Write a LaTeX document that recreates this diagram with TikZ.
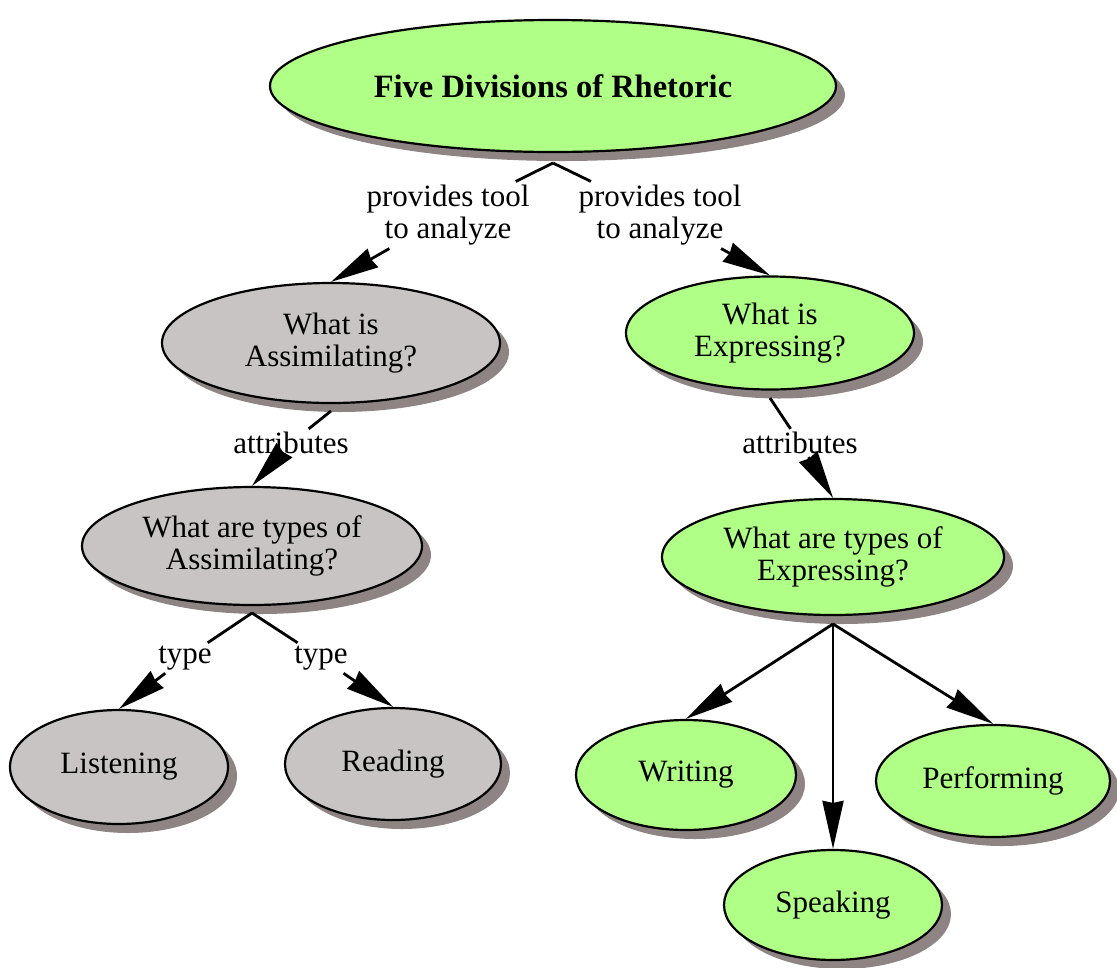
\documentclass[tikz,border=0pt]{standalone}
\usepackage{fontspec}
\setmainfont{Liberation Serif}
\usetikzlibrary{shapes.geometric,shadows,arrows.meta}
\definecolor{cgreen}{RGB}{176,255,134}
\definecolor{cgray}{RGB}{200,196,196}
\definecolor{cshadow}{RGB}{142,132,132}
\begin{document}
\begin{tikzpicture}[x=1pt,y=-1pt,
  concept/.style={ellipse, draw, line width=2.2pt, inner sep=0pt, align=center,
    font=\fontsize{31}{32.5}\selectfont,
    general shadow={fill=cshadow, shadow xshift=9pt, shadow yshift=-9pt}},
  gnode/.style={concept, fill=cgreen},
  ynode/.style={concept, fill=cgray},
  lbl/.style={font=\fontsize{31}{32.5}\selectfont, align=center, inner sep=3pt},
  link/.style={line width=2.8pt},
  arr/.style={line width=2.8pt, -{Triangle[length=48pt,width=21pt,inset=2pt]}}
]
\useasboundingbox (0,0) rectangle (1117,967);

% concepts
\node[gnode, minimum width=566pt, minimum height=132pt, font=\fontsize{32.5}{34}\selectfont\bfseries] (top) at (553,86) {Five Divisions of Rhetoric};
\node[ynode, minimum width=338pt, minimum height=120pt] (assim) at (331,343) {What is\\Assimilating?};
\node[gnode, minimum width=288pt, minimum height=113pt] (expr) at (770,333) {What is\\Expressing?};
\node[ynode, minimum width=340pt, minimum height=118pt] (tassim) at (252,546) {What are types of\\Assimilating?};
\node[gnode, minimum width=342pt, minimum height=116pt] (texpr) at (833,557) {What are types of\\Expressing?};
\node[ynode, minimum width=218pt, minimum height=114pt] (listen) at (119,767) {Listening};
\node[ynode, minimum width=216pt, minimum height=112pt] (read) at (393,764) {Reading};
\node[gnode, minimum width=220pt, minimum height=110pt] (write) at (686,775) {Writing};
\node[gnode, minimum width=234pt, minimum height=112pt] (perform) at (993,781) {Performing};
\node[gnode, minimum width=218pt, minimum height=110pt] (speak) at (833,905) {Speaking};

% apex points of links
\coordinate (a0) at (553,163);
\coordinate (a1) at (331,411);
\coordinate (a2) at (770,398);
\coordinate (a3) at (252,613);
\coordinate (a4) at (833,624);

% linking phrases
\node[lbl] (l1) at (448,215) {provides tool\\to analyze};
\node[lbl] (l2) at (660,215) {provides tool\\to analyze};
\node[lbl] (l3) at (291,443) {attributes};
\node[lbl] (l4) at (800,443) {attributes};
\node[lbl] (l5) at (185,658) {type};
\node[lbl] (l6) at (321,658) {type};

% connectors
\draw[link] (a0) -- (l1);
\draw[link] (a0) -- (l2);
\draw[arr] (l1) -- (assim.north);
\draw[arr] (l2) -- (expr.north);
\draw[link] (a1) -- (l3);
\draw[arr] (l3) -- (tassim.north);
\draw[link] (a2) -- (l4);
\draw[arr] (l4) -- (texpr.north);
\draw[link] (a3) -- (l5);
\draw[link] (a3) -- (l6);
\draw[arr] (l5) -- (listen.north);
\draw[arr] (l6) -- (read.north);
\draw[arr] (a4) -- (write.north);
\draw[arr] (a4) -- (speak.north);
\draw[arr] (a4) -- (perform.north);
\end{tikzpicture}
\end{document}
